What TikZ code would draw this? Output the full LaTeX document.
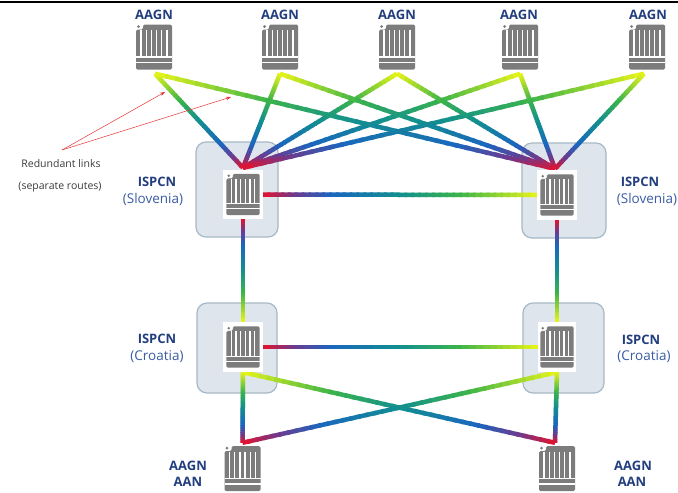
\documentclass[tikz,border=0pt]{standalone}
\usepackage{fontspec}
\setmainfont{Open Sans}
\usetikzlibrary{calc,arrows.meta}
\definecolor{navy}{HTML}{223E7E}
\definecolor{lblue}{HTML}{3A5CA4}
\definecolor{txtgray}{HTML}{3C3C3C}
\definecolor{icongray}{HTML}{7C7C7C}
\definecolor{boxfill}{HTML}{DFE5EC}
\definecolor{boxline}{HTML}{A7B9C6}
\definecolor{arrred}{HTML}{E83434}
\definecolor{gs0}{HTML}{E8F418}
\definecolor{gs1}{HTML}{3CB44A}
\definecolor{gs2}{HTML}{12908F}
\definecolor{gs3}{HTML}{1A66C0}
\definecolor{gs4}{HTML}{6A3C90}
\definecolor{gs5}{HTML}{E8102A}
\tikzset{
  iconnode/.style={inner sep=0pt, minimum width=36pt, minimum height=45pt},
  whitebg/.style={fill=white, inner sep=0pt},
  ispcnbox/.style={fill=boxfill, draw=boxline, line width=1.2pt, rounded corners=10pt, inner sep=0pt},
  boldlbl/.style={font=\bfseries\fontsize{13}{15}\selectfont, text=navy, inner sep=0pt},
  countrylbl/.style={font=\fontsize{13.5}{16}\selectfont, text=lblue, inner sep=0pt},
  notelbl/.style={font=\fontsize{10.5}{12}\selectfont, text=txtgray, inner sep=0pt},
  linkseg/.style={line width=4.5pt},
  notearrow/.style={draw=arrred, line width=0.5pt, -{Stealth[length=5pt,width=3.5pt]}},
  pics/router/.style={code={
    \fill[icongray, rounded corners=1.5pt] (-11,-22.5) -- (18,-22.5) -- (18,22.5) -- (-18,22.5) -- (-18,-17.5) -- (-11,-17.5) -- cycle;
    \fill[icongray] (-15.5,-20.5) circle (1.5pt);
    \foreach \xx in {-12.86,-7.71,-2.57,2.57,7.71,12.86}
      \draw[white, line width=1.3pt] (\xx,-17) -- (\xx,9.3);
    \draw[white, line width=1.2pt] (-18,10) -- (18,10);
    \draw[white, line width=1.2pt] (-18,15.5) -- (18,15.5);
  }}
}
\newcommand{\glink}[2]{%
  \foreach \gi in {1,...,40}{%
    \pgfmathsetmacro{\gta}{(\gi-1)/40}%
    \pgfmathsetmacro{\gtb}{min(1,(\gi+0.35)/40)}%
    \pgfmathsetmacro{\gtm}{(\gi-0.5)/40}%
    \pgfmathtruncatemacro{\gk}{\gtm<0.28 ? 0 : (\gtm<0.5 ? 1 : (\gtm<0.75 ? 2 : (\gtm<0.88 ? 3 : 4)))}%
    \pgfmathsetmacro{\glo}{\gk==0 ? 0 : (\gk==1 ? 0.28 : (\gk==2 ? 0.5 : (\gk==3 ? 0.75 : 0.88)))}%
    \pgfmathsetmacro{\ghi}{\gk==0 ? 0.28 : (\gk==1 ? 0.5 : (\gk==2 ? 0.75 : (\gk==3 ? 0.88 : 1)))}%
    \pgfmathtruncatemacro{\gp}{100*(\gtm-\glo)/(\ghi-\glo)}%
    \pgfmathtruncatemacro{\gkk}{\gk+1}%
    \colorlet{segc}{gs\gkk!\gp!gs\gk}%
    \draw[linkseg, segc] ($(#1)!\gta!(#2)$) -- ($(#1)!\gtb!(#2)$);
  }}
\begin{document}
\begin{tikzpicture}[x=1pt, y=-1pt]
\useasboundingbox (0,0) rectangle (678,493);
\fill[white] (0,0) rectangle (678,493);
\draw[black, line width=2pt] (0,1.5) -- (678,1.5);

% ISPCN boxes
\node[ispcnbox, minimum width=82pt, minimum height=95pt] (bsl) at (237,189.5) {};
\node[ispcnbox, minimum width=84pt, minimum height=95pt] (bsr) at (564,190.5) {};
\node[ispcnbox, minimum width=80pt, minimum height=90pt] (bcl) at (237,348) {};
\node[ispcnbox, minimum width=81pt, minimum height=90pt] (bcr) at (563.5,348) {};

% router positions (white backgrounds)
\node[whitebg, minimum width=40pt, minimum height=49pt] (sl) at (243,194.5) {};
\node[whitebg, minimum width=39pt, minimum height=50pt] (sr) at (557,195) {};
\node[whitebg, minimum width=39pt, minimum height=50pt] (cl) at (243,347) {};
\node[whitebg, minimum width=38pt, minimum height=50pt] (cr) at (557,347) {};

% top AAGN icons
\node[iconnode] (a1) at (154,47) {};
\node[iconnode] (a2) at (280,47) {};
\node[iconnode] (a3) at (397,47) {};
\node[iconnode] (a4) at (520,47) {};
\node[iconnode] (a5) at (647,47) {};
% bottom AAGN/AAN icons
\node[iconnode] (bl) at (242.5,468.5) {};
\node[iconnode] (br) at (557,468.5) {};
\coordinate (a1e) at ($(a1.south)+(1,4)$);
\coordinate (a2e) at ($(a2.south)+(0,4)$);
\coordinate (a3e) at ($(a3.south)+(0,4)$);
\coordinate (a4e) at ($(a4.south)+(0,4)$);
\coordinate (a5e) at ($(a5.south)+(-3,4)$);
\coordinate (slt) at ($(sl.north)+(0,-2)$);
\coordinate (srt) at ($(sr.north)+(-2,-1)$);
\coordinate (blt) at ($(bl.north)+(0,-3)$);
\coordinate (brt) at ($(br.north)+(-2,-3)$);

% links (yellow end first, red end second)
\glink{a1e}{slt}
\glink{a2e}{slt}
\glink{a3e}{slt}
\glink{a4e}{slt}
\glink{a5e}{slt}
\glink{a1e}{srt}
\glink{a2e}{srt}
\glink{a3e}{srt}
\glink{a4e}{srt}
\glink{a5e}{srt}
\glink{sr.west}{sl.east}
\glink{cl.north}{sl.south}
\glink{cr.north}{sr.south}
\glink{cr.west}{cl.east}
\glink{cl.south}{blt}
\glink{cl.south}{brt}
\glink{cr.south}{blt}
\glink{cr.south}{brt}

% router white backgrounds on top, then icons
\fill[white] (sl.north west) rectangle (sl.south east);
\fill[white] (sr.north west) rectangle (sr.south east);
\fill[white] (cl.north west) rectangle (cl.south east);
\fill[white] (cr.north west) rectangle (cr.south east);
\pic[scale=0.92] at (sl) {router};
\pic[scale=0.92] at (sr) {router};
\pic[scale=0.92] at (cl) {router};
\pic[scale=0.92] at (cr) {router};
\pic at (a1) {router};
\pic at (a2) {router};
\pic at (a3) {router};
\pic at (a4) {router};
\pic at (a5) {router};
\pic at (bl) {router};
\pic at (br) {router};

% labels
\node[boldlbl] (t1) at (154,15) {AAGN};
\node[boldlbl] (t2) at (280,15) {AAGN};
\node[boldlbl] (t3) at (397,15) {AAGN};
\node[boldlbl] (t4) at (519,15) {AAGN};
\node[boldlbl] (t5) at (648,15) {AAGN};

\node[boldlbl] (isl) at (157,182) {ISPCN};
\node[countrylbl] (isl2) at (153,199) {(Slovenia)};
\node[boldlbl] (isr) at (640,182) {ISPCN};
\node[countrylbl] (isr2) at (647,199) {(Slovenia)};
\node[boldlbl] (icl) at (157,339) {ISPCN};
\node[countrylbl] (icl2) at (157,357) {(Croatia)};
\node[boldlbl] (icr) at (641,340) {ISPCN};
\node[countrylbl] (icr2) at (644,357) {(Croatia)};

\node[boldlbl] (bll) at (188,466) {AAGN};
\node[boldlbl] (bll2) at (188,482) {AAN};
\node[boldlbl] (brl) at (633,466) {AAGN};
\node[boldlbl] (brl2) at (632,482) {AAN};

\node[notelbl] (n1) at (61,164) {Redundant links};
\node[notelbl] (n2) at (60,187) {(separate routes)};
\coordinate (nstart) at (62,150);
\coordinate (nend1) at (165,92);
\coordinate (nend2) at (231,97);
\draw[notearrow] (nstart) -- (nend1);
\draw[notearrow] (nstart) -- (nend2);
\end{tikzpicture}
\end{document}
